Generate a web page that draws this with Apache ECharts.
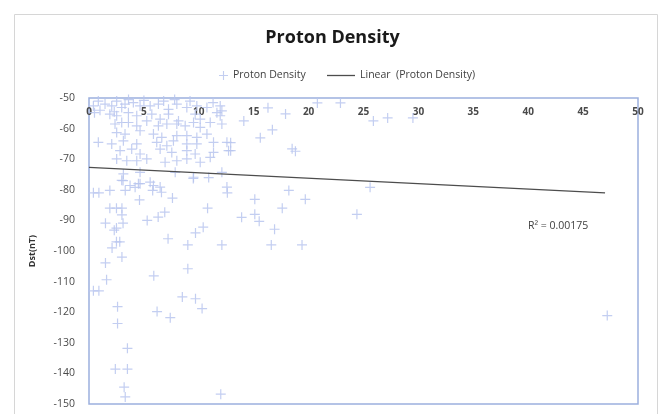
<!DOCTYPE html>
<html>
<head>
<meta charset="utf-8">
<script src="https://cdn.jsdelivr.net/npm/echarts@6/dist/echarts.min.js"></script>
<style>html,body{margin:0;padding:0;background:#fff}#c{width:665px;height:414px}</style>
</head>
<body>
<div id="c"></div>
<script>
var titleText = 'Proton Density';
var seriesName = 'Proton Density';
var trendName = 'Linear  (Proton Density)';
var yAxisName = 'Dst(nT)';
var r2Text = 'R\u00b2 = 0.00175';

var densityX = [
  1.5,1.6,0.4,0.9,2.6,2.6,3.5,2.4,3.5,3.2,3.3,12,5.9,9.0,8.5,9.7,10.3,6.2,7.4,
  0.4,0.9,1.9,3.3,3.1,4.2,4.5,4.6,5.8,6.6,7.6,12.6,1.9,2.5,3.0,3.0,1.5,3.1,5.3,6.3,6.9,10.8,2.5,2.3,9.7,10.4,2.5,2.8,7.2,9.0,12.1,2.1,3.0,
  0.85,1.46,2.07,2.52,2.98,3.28,4.04,4.65,5.57,6.32,7.24,8.0,8.91,9.82,10.74,11.95,12.1,0.4,
  1.0,2.3,3.6,5.0,6.8,7.8,9.2,11.3,
  0.5,1.9,2.52,3.59,4.35,5.72,6.48,7.24,8.15,9.67,10.13,11.65,11.95,
  2.37,2.98,3.59,4.35,5.26,6.32,7.09,8.0,8.76,9.52,10.13,11.04,12.1,
  2.52,3.28,4.65,5.87,6.63,8.0,8.91,9.82,10.74,
  0.85,2.07,3.13,4.35,6.17,7.09,7.69,8.91,9.82,11.34,12.56,
  2.83,3.89,4.65,6.48,7.54,8.91,9.67,11.34,12.71,
  2.52,3.44,4.35,5.26,6.93,8.0,8.91,10.13,11.04,
  3.13,4.65,7.85,9.52,12.1,
  2.98,3.74,4.65,5.57,5.87,6.48,12.56,
  9.5,10.9,
  16.3,17.9,14.1,20.8,22.9,25.9,27.2,29.5,16.7,15.6,18.5,18.8,12.9,12.9,25.6,18.2,15.1,19.7,17.6,13.9,15.1,15.5,24.4,16.9,16.6,19.4,47.2
];
var dstY = [
  -103.9,-109.4,-113,-113,-118.2,-123.7,-131.8,-138.6,-138.6,-144.5,-147.7,-146.8,-108.1,-105.8,-115,-115.6,-118.8,-119.8,-121.8,
  -81,-81,-80.2,-80.2,-77,-79.2,-78,-83.3,-80.2,-80.8,-82.7,-81,-86,-86,-86,-88.2,-90.9,-90.9,-90,-88.9,-87.3,-86,-92.5,-93.2,-94.1,-92.2,-97,-97,-96,-98,-98,-99,-102,
  -51,-52,-52.6,-51,-53.1,-52,-51.5,-52.6,-52.6,-52,-53.7,-52,-53.1,-52.6,-53.1,-52.6,-54.2,-52.6,
  -54,-54.5,-50.5,-50.8,-51,-50.5,-51,-51.5,
  -54.8,-55.3,-55.8,-54.8,-55.8,-55.3,-56.9,-55.3,-57.5,-55.3,-56.9,-54.8,-55.8,
  -58.5,-58,-58,-59.1,-57.5,-59.1,-58.5,-58.5,-59.1,-58,-59.6,-58,-58.5,
  -61.3,-61.8,-60.7,-61.8,-62.9,-62.3,-62.3,-62.9,-61.8,
  -64.5,-65,-64,-65,-64.5,-65.6,-64,-65,-65,-64.5,-64.5,
  -67.2,-66.7,-68.3,-66.7,-67.8,-67.2,-68.3,-67.8,-67.2,
  -69.9,-70.5,-70.5,-69.9,-71,-70.5,-69.9,-71,-69.4,
  -74.8,-74.3,-74.3,-75.9,-74.3,
  -76.9,-78.6,-78,-77.5,-78.6,-79.1,-79.1,
  -76.3,-76,
  -53.2,-55.2,-57.5,-51.6,-51.6,-57.5,-56.5,-56.5,-60.4,-63,-66.6,-67.4,-64.6,-67.2,-79.2,-80.2,-83.1,-83.1,-86,-89,-88,-90.3,-88,-92.9,-98,-98,-121.1
];
var trendX = [0, 47];
var trendY = [-72.7, -81.0];

var pts = densityX.map(function (x, i) { return [x, dstY[i]]; });
var trend = trendX.map(function (x, i) { return [x, trendY[i]]; });

var plus = 'path://M4.4,0H5.6V4.4H10V5.6H5.6V10H4.4V5.6H0V4.4H4.4Z';
var lineIcon = 'path://M0,0H30V1.4H0Z';
var markerColor = '#b9c6ef';

var chart = echarts.init(document.getElementById('c'), null, {renderer: 'canvas'});
chart.setOption({
  backgroundColor: '#fff',
  animation: false,
  title: {
    text: titleText, left: 'center', top: 24,
    textStyle: {fontFamily: 'Open Sans', fontSize: 18, fontWeight: 'bold', color: '#1a1a1a'}
  },
  legend: [
    {data: [{name: seriesName, icon: plus}], left: 214, top: 65, itemWidth: 9, itemHeight: 9, itemGap: 6,
     textStyle: {fontFamily: 'Open Sans', fontSize: 10.5, color: '#404040'}},
    {data: [{name: trendName, icon: lineIcon}], left: 322, top: 65, itemWidth: 28, itemHeight: 2, itemGap: 5,
     textStyle: {fontFamily: 'Open Sans', fontSize: 10.5, color: '#404040'}}
  ],
  grid: {left: 89, right: 27, top: 98, bottom: 10, show: true, borderColor: '#9cb0de', borderWidth: 1.5},
  xAxis: {
    type: 'value', min: 0, max: 50, interval: 5, position: 'top',
    axisLine: {show: false}, axisTick: {show: false}, splitLine: {show: false},
    axisLabel: {inside: true, margin: 9, fontFamily: 'Open Sans', fontSize: 10, fontWeight: 'bold', color: '#4a4a4a'}
  },
  yAxis: {
    type: 'value', min: -150, max: -50, interval: 10,
    name: yAxisName, nameLocation: 'middle', nameGap: 52, nameRotate: 90,
    nameTextStyle: {fontFamily: 'Open Sans', fontSize: 9, fontWeight: 'bold', color: '#333'},
    axisLine: {show: false}, axisTick: {show: false}, splitLine: {show: false},
    axisLabel: {margin: 14, fontFamily: 'Open Sans', fontSize: 10.5, color: '#4a4a4a'}
  },
  series: [
    {name: seriesName, type: 'scatter', data: pts, symbol: plus, symbolSize: 10,
     itemStyle: {color: markerColor, opacity: 0.85}},
    {name: trendName, type: 'line', data: trend, symbol: 'none',
     lineStyle: {color: '#4d4d4d', width: 1.3}, itemStyle: {color: '#4d4d4d'}}
  ],
  graphic: [
    {type: 'rect', left: 12, top: 12, shape: {width: 643, height: 420},
     style: {fill: 'none', stroke: '#d6d6d6', lineWidth: 1}, silent: true},
    {type: 'text', left: 528, top: 221,
     style: {text: r2Text, fontFamily: 'Open Sans', fontSize: 10.5, fill: '#404040'}}
  ]
});
</script>
</body>
</html>
